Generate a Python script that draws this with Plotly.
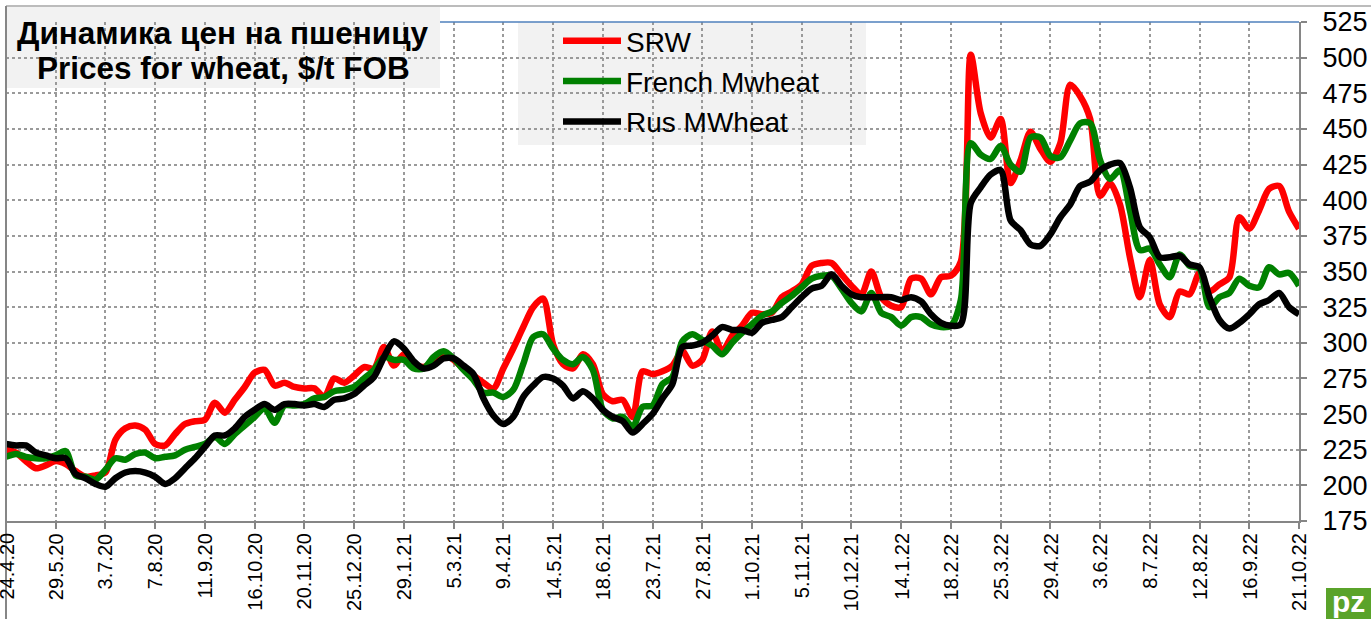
import plotly.graph_objects as go
import pandas as pd

# ---- data (weekly, starting 24.4.2020) ----
start_date = "2020-04-24"
n_weeks = 131

srw = [225, 223, 217, 212, 214, 217, 215, 210, 206, 207,
       209, 232, 240, 242, 239, 229, 228, 236, 243, 245,
       246, 258, 251, 260, 269, 279, 281, 270, 272, 269,
       268, 268, 262, 275, 272, 277, 283, 282, 297, 284,
       292, 285, 283, 287, 292, 288, 282, 277, 272, 268,
       282, 296, 311, 325, 331, 299, 285, 282, 292, 285,
       264, 259, 260, 248, 280, 278, 280, 284, 294, 284,
       288, 308, 294, 305, 312, 321, 320, 321, 332, 336,
       341, 354, 356, 356, 348, 340, 334, 350, 332, 326,
       325, 345, 345, 334, 346, 347, 357, 502, 461, 444,
       457, 412, 428, 448, 436, 427, 440, 481, 473, 457,
       403, 412, 397, 360, 332, 358, 327, 318, 336, 334,
       349, 336, 341, 346, 388, 380, 393, 408, 410, 392,
       380]

french = [220, 222, 220, 219, 219, 221, 224, 207, 206, 204,
          211, 219, 218, 222, 223, 219, 220, 221, 225, 227,
          229, 234, 229, 236, 242, 248, 254, 244, 256, 256,
          257, 261, 262, 266, 267, 269, 275, 281, 290, 288,
          288, 282, 282, 290, 294, 289, 281, 274, 265, 265,
          262, 267, 285, 304, 306, 296, 288, 285, 290, 281,
          253, 247, 248, 241, 255, 256, 271, 276, 301, 306,
          302, 298, 292, 300, 307, 313, 319, 322, 328, 333,
          339, 345, 347, 347, 338, 328, 322, 335, 321, 318,
          312, 318, 318, 313, 311, 312, 330, 440, 432, 429,
          438, 425, 420, 444, 444, 431, 430, 442, 454, 454,
          428, 415, 421, 393, 365, 366, 355, 346, 362, 354,
          352, 325, 332, 335, 345, 340, 339, 353, 348, 349,
          340]

rus = [229, 228, 228, 223, 221, 219, 219, 208, 205, 201,
       199, 205, 209, 210, 209, 206, 201, 205, 212, 219,
       227, 235, 235, 240, 248, 253, 257, 253, 257, 257,
       256, 257, 255, 260, 261, 264, 270, 276, 290, 301,
       296, 287, 282, 284, 289, 289, 284, 278, 261, 249,
       243, 248, 262, 270, 276, 275, 270, 261, 266, 261,
       253, 248, 245, 237, 243, 250, 261, 271, 297, 298,
       300, 305, 311, 309, 309, 307, 314, 316, 318, 325,
       332, 338, 340, 348, 340, 334, 332, 332, 332, 332,
       330, 332, 329, 320, 314, 312, 313, 398, 409, 418,
       421, 386, 379, 369, 368, 376, 388, 397, 410, 413,
       421, 425, 426, 409, 381, 374, 360, 360, 361, 355,
       353, 332, 316, 310, 314, 320, 327, 330, 335, 325,
       320]

series_names = ["SRW", "French Mwheat", "Rus MWheat"]
series_colors = ["#ff0000", "#008000", "#000000"]

tick_labels = ["24.4.20", "29.5.20", "3.7.20", "7.8.20", "11.9.20", "16.10.20",
               "20.11.20", "25.12.20", "29.1.21", "5.3.21", "9.4.21", "14.5.21",
               "18.6.21", "23.7.21", "27.8.21", "1.10.21", "5.11.21", "10.12.21",
               "14.1.22", "18.2.22", "25.3.22", "29.4.22", "3.6.22", "8.7.22",
               "12.8.22", "16.9.22", "21.10.22"]

title_lines = ["Динамика цен на пшеницу", "Prices for wheat, $/t FOB"]

dates = pd.date_range(start_date, periods=n_weeks, freq="7D")
tick_vals = list(dates[::5])

FONT = "Arial, Liberation Sans, sans-serif"
W, H = 1371, 619
ML, MR, MT, MB = 6, 72, 22, 98
PW, PH = W - ML - MR, H - MT - MB


def px_x(p):
    return (p - ML) / PW


def px_y(p):
    return (H - MB - p) / PH


fig = go.Figure()
for name, vals, col in zip(series_names, [srw, french, rus], series_colors):
    fig.add_trace(go.Scatter(
        x=dates, y=vals, name=name, mode="lines", legendgroup=name,
        line=dict(color=col, width=6.5, shape="spline", smoothing=0.8),
    ))

grid = dict(showgrid=True, gridcolor="#9a9a9a", griddash="dot", gridwidth=1.5)

fig.update_layout(
    width=W, height=H, autosize=False,
    margin=dict(l=ML, r=MR, t=MT, b=MB, pad=0, autoexpand=False),
    paper_bgcolor="white", plot_bgcolor="white",
    font=dict(family=FONT, color="black"),
    showlegend=True,
    legend=dict(
        x=px_x(558), y=px_y(16), xanchor="left", yanchor="top",
        bgcolor="rgba(0,0,0,0)", font=dict(size=28, family=FONT, color="black"),
        itemwidth=58, tracegroupgap=1,
    ),
    xaxis=dict(
        type="date", range=[dates[0], dates[-1]], automargin=False,
        tickmode="array", tickvals=tick_vals, ticktext=tick_labels,
        showticklabels=False,
        ticks="outside", ticklen=6, tickwidth=2, tickcolor="#868686",
        showline=True, linecolor="#868686", linewidth=2, zeroline=False,
        **grid,
    ),
    yaxis=dict(
        side="right", range=[175, 525], tick0=175, dtick=25, automargin=False,
        tickfont=dict(size=27, family=FONT, color="black"),
        ticklabelstandoff=10, ticklabeloverflow="allow",
        ticks="outside", ticklen=6, tickwidth=2, tickcolor="#868686",
        showline=True, linecolor="#868686", linewidth=2, zeroline=False,
        **grid,
    ),
)

# date labels, vertical, hanging just below the axis at each tick date
for tv, tl in zip(tick_vals, tick_labels):
    fig.add_annotation(
        xref="x", yref="paper", x=tv, y=px_y(532),
        xanchor="center", yanchor="top", textangle=-90, showarrow=False,
        text=tl, font=dict(size=20, family=FONT, color="black"),
        borderpad=0,
    )

shapes = [
    # title box background
    dict(type="rect", xref="paper", yref="paper", layer="below",
         x0=px_x(7), x1=px_x(440), y0=px_y(88), y1=px_y(7),
         fillcolor="#f2f2f2", line=dict(width=0)),
    # legend box background
    dict(type="rect", xref="paper", yref="paper", layer="below",
         x0=px_x(518), x1=px_x(866), y0=px_y(145), y1=px_y(22),
         fillcolor="#f2f2f2", line=dict(width=0)),
    # top plot edge (blue)
    dict(type="line", xref="paper", yref="paper",
         x0=px_x(440), x1=1, y0=1, y1=1,
         line=dict(color="#4f81bd", width=1.5)),
    # outer frame lines
    dict(type="line", xref="paper", yref="paper",
         x0=px_x(6), x1=px_x(W), y0=px_y(6), y1=px_y(6),
         line=dict(color="#a6a6a6", width=1.5)),
    dict(type="line", xref="paper", yref="paper",
         x0=px_x(6), x1=px_x(6), y0=px_y(6), y1=px_y(H),
         line=dict(color="#868686", width=2)),
    # logo block
    dict(type="rect", xref="paper", yref="paper",
         x0=px_x(1326), x1=px_x(1371), y0=px_y(619), y1=px_y(588),
         fillcolor="#5aa32a", line=dict(width=0)),
]
fig.update_layout(shapes=shapes)

for txt, cy in zip(title_lines, [33, 68]):
    fig.add_annotation(
        xref="paper", yref="paper", x=px_x(223), y=px_y(cy),
        xanchor="center", yanchor="middle", align="center", showarrow=False,
        text="<b>" + txt + "</b>",
        font=dict(size=31.5, family=FONT, color="black"),
    )
fig.add_annotation(
    xref="paper", yref="paper", x=px_x(1349), y=px_y(601),
    xanchor="center", yanchor="middle", showarrow=False,
    text="<b>pz</b>", font=dict(size=30, family=FONT, color="white"),
)

fig.write_html("out.html", config={"displayModeBar": False},
               post_script="document.body.style.margin='0';")
